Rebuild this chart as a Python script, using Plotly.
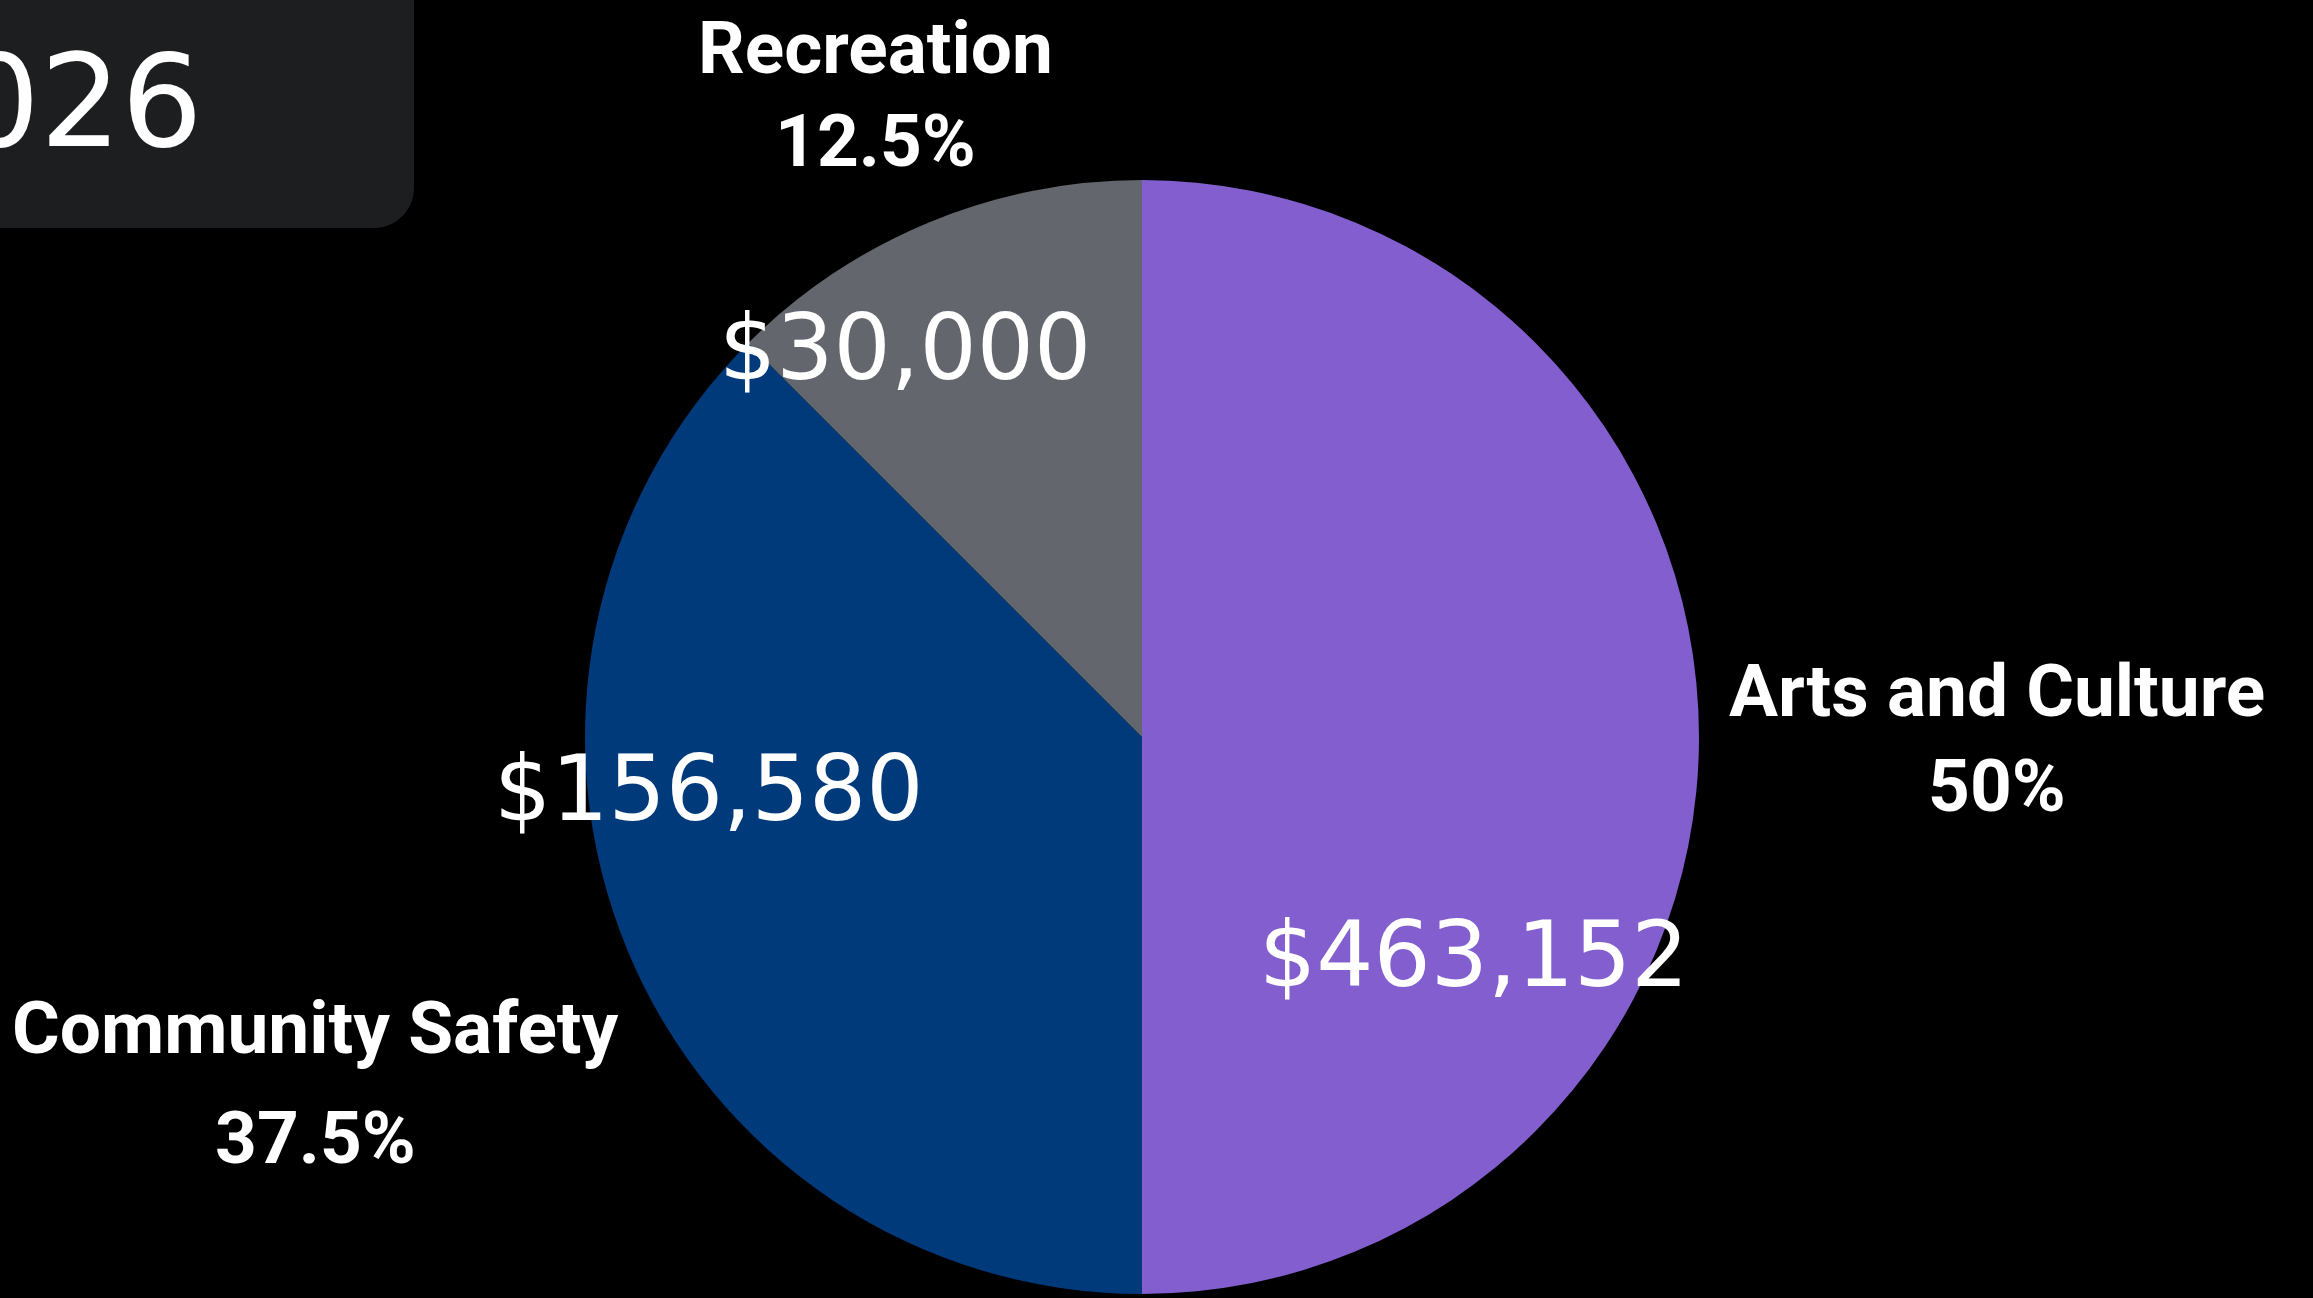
import plotly.graph_objects as go

# ---- data ----
categories = ["Arts and Culture", "Community Safety", "Recreation"]
shares = [50, 37.5, 12.5]               # slice share (%)
amounts = [463152, 156580, 30000]       # dollar amounts
colors = ["#835ECE", "#013A7A", "#64666E"]
box_text = "2026"

W, H = 2313, 1298

fig = go.Figure()
fig.add_trace(go.Pie(
    labels=categories,
    values=shares,
    sort=False,
    direction="clockwise",
    rotation=0,
    marker=dict(colors=colors, line=dict(width=0)),
    textinfo="none",
    domain=dict(x=[585 / W, 1699 / W], y=[4 / H, 1118 / H]),
    automargin=False,
    showlegend=False,
    hoverinfo="label+value+percent",
))

annotations = []

# outside category labels: (x center, y of name line, y of percent line) in px
outside_pos = [(1997, 691, 786), (316, 1028, 1138), (875, 48, 141)]
label_font = dict(family="Roboto, Liberation Sans, sans-serif", size=73,
                  color="white", weight="bold")
for cat, sh, (px, py1, py2) in zip(categories, shares, outside_pos):
    for txt, py in ((cat, py1), (f"{sh:g}%", py2)):
        annotations.append(dict(
            x=px / W, y=1 - py / H, xref="paper", yref="paper",
            text=txt, showarrow=False, xanchor="center", yanchor="middle",
            font=label_font,
        ))

# dollar labels over the slices
label_pos = [(1473, 954), (708, 788), (905, 347)]
for amt, (px, py) in zip(amounts, label_pos):
    annotations.append(dict(
        x=px / W, y=1 - py / H, xref="paper", yref="paper",
        text=f"${amt:,}", showarrow=False,
        xanchor="center", yanchor="middle",
        font=dict(family="DejaVu Sans, Inter, sans-serif", size=90, color="white"),
    ))

# year text in the dark box (partially off-canvas)
annotations.append(dict(
    x=205 / W, y=1 - 101 / H, xref="paper", yref="paper",
    text=box_text, showarrow=False, xanchor="right", yanchor="middle",
    font=dict(family="DejaVu Sans, Inter, sans-serif", size=128, color="white"),
))

x1 = 414 / W
y0 = 1 - 228 / H
rx = 40 / W
ry = 40 / H
k = 0.45
path = (f"M -0.05,1.05 L {x1},1.05 L {x1},{y0 + ry} "
        f"C {x1},{y0 + ry * k} {x1 - rx * k},{y0} {x1 - rx},{y0} "
        f"L -0.05,{y0} Z")

fig.update_layout(
    width=W, height=H,
    margin=dict(l=0, r=0, t=0, b=0, autoexpand=False),
    paper_bgcolor="black",
    plot_bgcolor="black",
    shapes=[dict(type="path", path=path, xref="paper", yref="paper",
                 fillcolor="#1D1E20", line=dict(width=0), layer="below")],
    annotations=annotations,
)

fig.write_html("out.html",
               config={"displayModeBar": False},
               post_script="document.body.style.margin='0';document.body.style.overflow='hidden';")
